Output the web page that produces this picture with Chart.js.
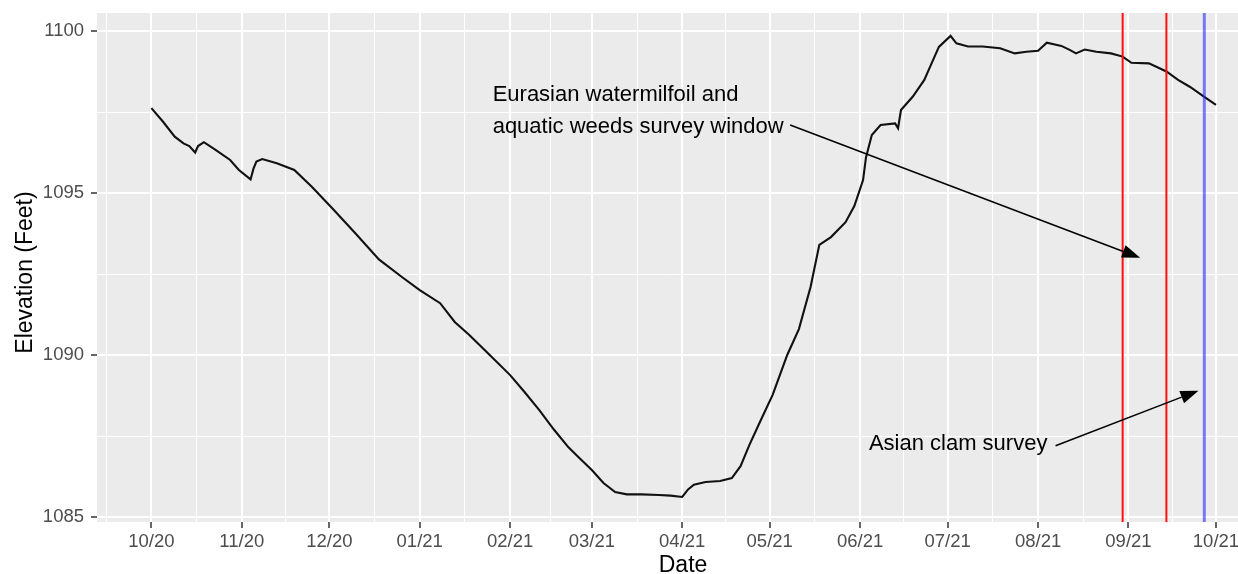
<!DOCTYPE html>
<html>
<head>
<meta charset="utf-8">
<script src="https://cdn.jsdelivr.net/npm/chart.js@4.4.1/dist/chart.umd.min.js"></script>
<style>
  html, body { margin: 0; padding: 0; background: #ffffff; overflow: hidden; }
  #wrap { width: 1238px; height: 574px; }
  canvas { display: block; }
</style>
</head>
<body>
<div id="wrap"><canvas id="c" width="1238" height="574"></canvas></div>
<script>
// Daily reservoir elevation readings (feet)
const obsDates = [
  '2020-10-01','2020-10-05','2020-10-09','2020-10-12','2020-10-14','2020-10-16','2020-10-17','2020-10-19',
  '2020-10-23','2020-10-28','2020-10-31','2020-11-04','2020-11-05','2020-11-06','2020-11-08','2020-11-13',
  '2020-11-19','2020-11-25','2020-12-02','2020-12-10','2020-12-18','2020-12-26','2021-01-01','2021-01-08',
  '2021-01-13','2021-01-18','2021-01-25','2021-02-01','2021-02-06','2021-02-11','2021-02-16','2021-02-21',
  '2021-02-25','2021-03-01','2021-03-05','2021-03-09','2021-03-13','2021-03-18','2021-03-24','2021-03-28',
  '2021-04-01','2021-04-03','2021-04-05','2021-04-09','2021-04-14','2021-04-18','2021-04-21','2021-04-24',
  '2021-04-28','2021-05-02','2021-05-07','2021-05-11','2021-05-15','2021-05-18','2021-05-22','2021-05-27',
  '2021-05-30','2021-06-02','2021-06-03','2021-06-05','2021-06-08','2021-06-13','2021-06-14','2021-06-15',
  '2021-06-19','2021-06-23','2021-06-25','2021-06-28','2021-07-02','2021-07-04','2021-07-08','2021-07-13',
  '2021-07-19','2021-07-24','2021-07-28','2021-08-01','2021-08-04','2021-08-09','2021-08-12','2021-08-14',
  '2021-08-17','2021-08-21','2021-08-26','2021-08-30','2021-09-02','2021-09-08','2021-09-14','2021-09-18',
  '2021-09-22','2021-09-27','2021-10-01'
];
const elevationFt = [
  1097.62, 1097.20, 1096.74, 1096.53, 1096.45, 1096.25, 1096.45, 1096.57,
  1096.33, 1096.02, 1095.71, 1095.42, 1095.75, 1095.97, 1096.05, 1095.92,
  1095.71, 1095.19, 1094.53, 1093.75, 1092.95, 1092.40, 1092.00, 1091.60,
  1091.02, 1090.62, 1090.00, 1089.38, 1088.85, 1088.30, 1087.70, 1087.15,
  1086.80, 1086.45, 1086.05, 1085.77, 1085.70, 1085.70, 1085.68, 1085.66,
  1085.62, 1085.85, 1086.00, 1086.08, 1086.11, 1086.20, 1086.57, 1087.22,
  1088.00, 1088.77, 1090.00, 1090.80, 1092.10, 1093.40, 1093.64, 1094.10,
  1094.60, 1095.40, 1096.10, 1096.79, 1097.10, 1097.15, 1097.00, 1097.56,
  1097.97, 1098.49, 1098.90, 1099.51, 1099.85, 1099.62, 1099.52, 1099.52,
  1099.47, 1099.31, 1099.36, 1099.39, 1099.64, 1099.54, 1099.41, 1099.31,
  1099.43, 1099.36, 1099.31, 1099.21, 1099.02, 1099.00, 1098.75, 1098.49,
  1098.28, 1097.97, 1097.72
];

// Axis breaks and labels
const monthBreaks = [
  '2020-10-01','2020-11-01','2020-12-01','2021-01-01','2021-02-01','2021-03-01','2021-04-01',
  '2021-05-01','2021-06-01','2021-07-01','2021-08-01','2021-09-01','2021-10-01'
];
const monthLabels = ['10/20','11/20','12/20','01/21','02/21','03/21','04/21','05/21','06/21','07/21','08/21','09/21','10/21'];
const elevBreaks = [1085, 1090, 1095, 1100];
const elevLabels = ['1085', '1090', '1095', '1100'];
const axisTitles = { x: 'Date', y: 'Elevation (Feet)' };

// Survey dates
const milfoilWindow = ['2021-08-30', '2021-09-14'];
const clamSurveyDate = ['2021-09-27'];

// Annotations: [date, elevation]
const milfoilText = ['Eurasian watermilfoil and', 'aquatic weeds survey window'];
const milfoilTextAt = ['2021-01-26', 1097.84];
const milfoilArrow = [['2021-05-08', 1097.1], ['2021-09-05', 1093.0]];
const clamText = 'Asian clam survey';
const clamTextAt = ['2021-06-04', 1087.07];
const clamArrow = [['2021-08-07', 1087.2], ['2021-09-25', 1088.9]];

const FONT = '"Liberation Sans", Arial, Helvetica, sans-serif';
const ORIGIN = Date.UTC(2020, 9, 1);
function dayOf(s) {
  const [y, m, d] = s.split('-').map(Number);
  return (Date.UTC(y, m - 1, d) - ORIGIN) / 86400000;
}

// the panel runs past the right edge of the canvas (to day 383.2)
const X_MIN = -18.65, X_MAX = 372.55, X_PANEL_END = 383.2;
const Y_MIN = 1084.846, Y_MAX = 1100.556;

// major ticks at month starts, minor ticks halfway between
const majorX = monthBreaks.map(dayOf);
const xTicks = [];
majorX.forEach((v, i) => {
  const prevGap = i > 0 ? v - majorX[i - 1] : majorX[1] - majorX[0];
  xTicks.push({ value: v - prevGap / 2, isMajor: false, text: '' });
  xTicks.push({ value: v, isMajor: true, text: monthLabels[i] });
});
const xTicksShown = xTicks.filter(t => t.value >= X_MIN && t.value <= X_MAX);

const yTicks = [];
elevBreaks.forEach((v, i) => {
  yTicks.push({ value: v, isMajor: true, text: elevLabels[i] });
  if (i < elevBreaks.length - 1) yTicks.push({ value: (v + elevBreaks[i + 1]) / 2, isMajor: false, text: '' });
});

const vline = (d, color, width) => ({
  data: [{ x: dayOf(d), y: Y_MIN }, { x: dayOf(d), y: Y_MAX }],
  borderColor: color, borderWidth: width, pointRadius: 0, fill: false
});

const panelBg = {
  id: 'panelBg',
  beforeDraw(chart) {
    const { ctx, chartArea: a } = chart;
    ctx.save();
    ctx.fillStyle = '#EBEBEB';
    ctx.fillRect(a.left, a.top, a.right - a.left, a.bottom - a.top);
    ctx.restore();
  }
};

// axis titles centred on the whole panel
const axisTitleDraw = {
  id: 'axisTitleDraw',
  afterDraw(chart) {
    const { ctx, chartArea: a, scales: { x } } = chart;
    ctx.save();
    ctx.fillStyle = '#000';
    ctx.font = '23px ' + FONT;
    ctx.textAlign = 'center';
    ctx.textBaseline = 'alphabetic';
    ctx.fillText(axisTitles.x, x.getPixelForValue((X_MIN + X_PANEL_END) / 2), a.bottom + 49.5);
    ctx.translate(32, (a.top + a.bottom) / 2 + 5);
    ctx.rotate(-Math.PI / 2);
    ctx.fillText(axisTitles.y, 0, 0);
    ctx.restore();
  }
};

function arrow(ctx, x0, y0, x1, y1) {
  const ang = Math.atan2(y1 - y0, x1 - x0);
  const len = 18, half = 6.5;
  const bx = x1 - len * Math.cos(ang), by = y1 - len * Math.sin(ang);
  ctx.beginPath();
  ctx.moveTo(x0, y0);
  ctx.lineTo(bx, by);
  ctx.stroke();
  ctx.beginPath();
  ctx.moveTo(x1, y1);
  ctx.lineTo(bx + half * Math.sin(ang), by - half * Math.cos(ang));
  ctx.lineTo(bx - half * Math.sin(ang), by + half * Math.cos(ang));
  ctx.closePath();
  ctx.fill();
}

const notes = {
  id: 'notes',
  afterDatasetsDraw(chart) {
    const { ctx, scales: { x, y } } = chart;
    const px = d => x.getPixelForValue(dayOf(d));
    const py = v => y.getPixelForValue(v);
    ctx.save();
    ctx.fillStyle = '#000';
    ctx.strokeStyle = '#000';
    ctx.lineWidth = 1.5;
    ctx.font = '22px ' + FONT;
    ctx.textAlign = 'left';
    ctx.textBaseline = 'alphabetic';
    const tx = px(milfoilTextAt[0]), ty = py(milfoilTextAt[1]);
    milfoilText.forEach((t, i) => ctx.fillText(t, tx, ty + i * 32));
    ctx.fillText(clamText, px(clamTextAt[0]), py(clamTextAt[1]));
    arrow(ctx, px(milfoilArrow[0][0]), py(milfoilArrow[0][1]), px(milfoilArrow[1][0]), py(milfoilArrow[1][1]));
    arrow(ctx, px(clamArrow[0][0]), py(clamArrow[0][1]), px(clamArrow[1][0]), py(clamArrow[1][1]));
    ctx.restore();
  }
};

const gridOpts = {
  color: '#FFFFFF',
  lineWidth: c => (c.tick && c.tick.isMajor ? 2 : 1),
  tickColor: c => (c.tick && c.tick.isMajor ? '#333333' : 'rgba(0,0,0,0)'),
  tickLength: 6,
  tickWidth: 1.5
};

new Chart(document.getElementById('c'), {
  type: 'line',
  data: {
    datasets: [
      vline(milfoilWindow[0], '#FF1010', 2),
      vline(milfoilWindow[1], '#FF1010', 2),
      vline(clamSurveyDate[0], 'rgba(40,40,255,0.6)', 3),
      {
        label: 'Elevation',
        data: obsDates.map((d, i) => ({ x: dayOf(d), y: elevationFt[i] })),
        borderColor: '#111111', borderWidth: 2.1, pointRadius: 0, tension: 0, fill: false
      }
    ]
  },
  options: {
    responsive: false,
    animation: false,
    devicePixelRatio: 1,
    layout: { padding: { top: 13, right: 0, bottom: 0, left: 0 } },
    plugins: { legend: { display: false }, tooltip: { enabled: false } },
    scales: {
      x: {
        type: 'linear', min: X_MIN, max: X_MAX,
        afterBuildTicks: s => { s.ticks = xTicksShown.map(t => ({ ...t })); },
        afterFit: s => { s.height = 52; s.paddingLeft = 0; s.paddingRight = 0; },
        ticks: {
          autoSkip: false, maxRotation: 0, minRotation: 0, padding: 3,
          color: '#4D4D4D', font: { family: FONT, size: 18.5 },
          callback: (v, i, t) => t[i].text
        },
        grid: gridOpts,
        border: { display: false },
        title: { display: false }
      },
      y: {
        type: 'linear', min: Y_MIN, max: Y_MAX,
        afterBuildTicks: s => { s.ticks = yTicks.map(t => ({ ...t })); },
        afterFit: s => { s.width = 97; s.paddingTop = 0; s.paddingBottom = 0; },
        ticks: {
          autoSkip: false, padding: 7,
          color: '#4D4D4D', font: { family: FONT, size: 18.5 },
          callback: (v, i, t) => t[i].text
        },
        grid: gridOpts,
        border: { display: false },
        title: { display: false }
      }
    }
  },
  plugins: [panelBg, notes, axisTitleDraw]
});
</script>
</body>
</html>
